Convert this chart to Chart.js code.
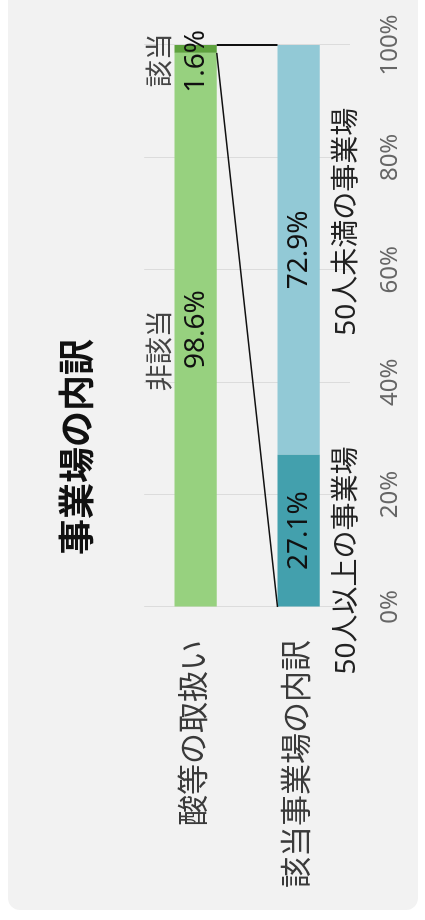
<!DOCTYPE html>
<html>
<head>
<meta charset="utf-8">
<script src="https://cdn.jsdelivr.net/npm/chart.js@4/dist/chart.umd.min.js"></script>
<style>
  html, body { margin: 0; padding: 0; background: #fff; overflow: hidden; }
  #rot {
    position: absolute; left: 0; top: 0;
    width: 920px; height: 425px;
    transform-origin: 0 0;
    transform: translateY(920px) rotate(-90deg);
  }
  #card {
    position: absolute; left: 10px; top: 8px;
    width: 940px; height: 410px;
    background: #f2f2f2; border-radius: 12px;
  }
  #chart { position: absolute; left: 0; top: 0; }
</style>
</head>
<body>
<div id="rot">
  <div id="card">
    <canvas id="chart" width="910" height="410"></canvas>
  </div>
</div>
<script>
const categories = ['酸等の取扱い', '該当事業場の内訳'];
const seriesNames = ['非該当', '該当', '50人以上の事業場', '50人未満の事業場'];
const hiGaitou = [98.6, null];
const gaitou = [1.6, null];
const over50 = [null, 27.1];
const under50 = [null, 72.9];
const xTicks = [0, 20, 40, 60, 80, 100];

const colors = ['#97d17f', '#5ea23e', '#43a0ad', '#92c9d6'];
// label tweaks (px): name label shift, value label shift
const nameDx = [-21, -12, -30, 28];
const valueDx = [0, -13, 0, 0];

const FONT = '"Noto Sans", "Noto Sans CJK JP", sans-serif';
Chart.defaults.font.family = FONT;

const labelPlugin = {
  id: 'segLabels',
  afterLayout(chart) {
    // title is centred on the card, not on the label column
    chart.titleBlock.left = 61;
  },
  afterDatasetsDraw(chart) {
    const ctx = chart.ctx;
    ctx.save();
    ctx.textAlign = 'center';
    ctx.textBaseline = 'middle';
    chart.data.datasets.forEach((ds, i) => {
      const meta = chart.getDatasetMeta(i);
      meta.data.forEach((el, j) => {
        const v = ds.data[j];
        if (v == null) return;
        const mid = (el.x + el.base) / 2;
        ctx.fillStyle = '#111';
        ctx.font = '28px ' + FONT;
        ctx.fillText(v + '%', mid + valueDx[i], el.y);
        if (j === 0) {
          ctx.fillStyle = '#444';
          ctx.font = '27px ' + FONT;
          ctx.fillText(ds.label, mid + nameDx[i], el.y - el.height / 2 - 13);
        } else {
          ctx.fillStyle = '#222';
          ctx.font = '28px ' + FONT;
          ctx.fillText(ds.label, mid + nameDx[i], el.y + el.height / 2 + 27);
        }
      });
    });

    // connector lines from 該当 segment to the breakdown bar
    const a = chart.getDatasetMeta(1).data[0];
    const b = chart.getDatasetMeta(2).data[1];
    const xs = chart.scales.x;
    const y1 = a.y + a.height / 2;
    const y2 = b.y - b.height / 2;
    ctx.strokeStyle = '#111';
    ctx.lineWidth = 2;
    ctx.beginPath();
    ctx.moveTo(Math.min(a.x, xs.getPixelForValue(100)), y1);
    ctx.lineTo(xs.getPixelForValue(100), y2);
    ctx.stroke();
    ctx.lineWidth = 1.5;
    ctx.beginPath();
    ctx.moveTo(a.base, y1);
    ctx.lineTo(xs.getPixelForValue(0), y2);
    ctx.stroke();
    ctx.restore();
  }
};

new Chart(document.getElementById('chart'), {
  type: 'bar',
  data: {
    labels: categories,
    datasets: [hiGaitou, gaitou, over50, under50].map((d, i) => ({
      label: seriesNames[i],
      data: d,
      backgroundColor: colors[i],
      borderWidth: 0,
      barPercentage: 0.5,
      categoryPercentage: 0.82,
    })),
  },
  options: {
    indexAxis: 'y',
    responsive: false,
    animation: false,
    layout: { padding: { left: 0, right: 45, top: 0, bottom: 0 } },
    plugins: {
      legend: { display: false },
      tooltip: { enabled: false },
      title: {
        display: true,
        text: '事業場の内訳',
        color: '#111',
        font: { size: 36, weight: 'bold' },
        padding: { top: 50, bottom: 43 },
      },
    },
    scales: {
      x: {
        stacked: true,
        min: xTicks[0],
        max: xTicks[xTicks.length - 1],
        afterBuildTicks: s => { s.ticks = xTicks.map(v => ({ value: v })); },
        ticks: { callback: v => v + '%', color: '#666', font: { size: 24 }, padding: 26 },
        grid: { color: '#dcdcdc', drawTicks: false },
        border: { display: false },
        afterFit: s => { s.height = 68; s.paddingLeft = 0; s.paddingRight = 0; },
      },
      y: {
        stacked: true,
        ticks: { color: '#3a3a3a', font: { size: 31 }, padding: 33 },
        grid: { display: false, drawTicks: false },
        border: { display: false },
        afterFit: s => { s.width = 303; s.paddingTop = 0; s.paddingBottom = 0; },
      },
    },
  },
  plugins: [labelPlugin],
});
</script>
</body>
</html>
